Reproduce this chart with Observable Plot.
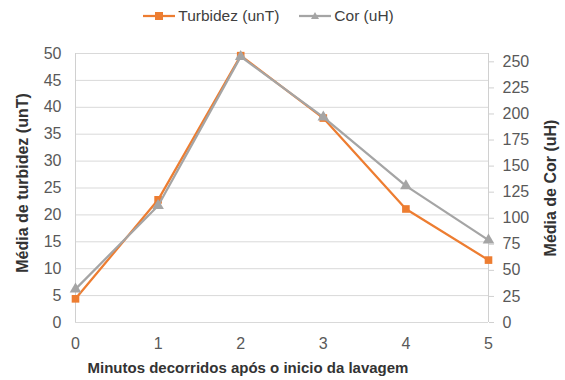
<!DOCTYPE html>
<html>
<head>
<meta charset="utf-8">
<script src="https://cdn.jsdelivr.net/npm/d3@7"></script>
<script src="https://cdn.jsdelivr.net/npm/@observablehq/plot@0.6"></script>
<style>
  html, body { margin: 0; padding: 0; background: #fff; }
  body { width: 565px; height: 380px; overflow: hidden; font-family: "Liberation Sans", Arial, sans-serif; }
  #legend { height: 31px; display: flex; justify-content: center; align-items: center; gap: 20px; font-size: 15.5px; color: #404040; padding-right: 28px; box-sizing: border-box; }
  #legend .item { display: flex; align-items: center; gap: 3px; }
</style>
</head>
<body>
<div id="legend"></div>
<div id="chart"></div>
<script>
const minutes = [0, 1, 2, 3, 4, 5];
const turbidez = [4.4, 22.8, 49.6, 38.0, 21.1, 11.6];
const cor = [32, 112, 255, 197, 131, 79];
const seriesNames = ["Turbidez (unT)", "Cor (uH)"];
const leftTicks = d3.range(0, 51, 5);
const rightTicks = d3.range(0, 251, 25);
const xTicks = [0, 1, 2, 3, 4, 5];

const orange = "#ED7D31";
const gray = "#A5A5A5";
const leftMax = 50;
const rightMax = 258;
const k = leftMax / rightMax;

const turbData = minutes.map((m, i) => ({x: m, y: turbidez[i]}));
const corData = minutes.map((m, i) => ({x: m, y: cor[i] * k}));

// legend
const legend = document.getElementById("legend");
[[seriesNames[0], orange, "square"], [seriesNames[1], gray, "triangle"]].forEach(([name, color, sym]) => {
  const item = document.createElement("div");
  item.className = "item";
  const marker = sym === "square"
    ? `<rect x="12" y="2" width="8" height="8" fill="${color}"/>`
    : `<path d="M16,2 L20,9 L12,9 Z" fill="${color}"/>`;
  item.innerHTML = `<svg width="32" height="12"><line x1="0" x2="32" y1="6" y2="6" stroke="${color}" stroke-width="2.25"/>${marker}</svg><span>${name}</span>`;
  legend.appendChild(item);
});

const chart = Plot.plot({
  width: 565,
  height: 349,
  marginLeft: 75,
  marginRight: 77,
  marginTop: 22,
  marginBottom: 58,
  style: {fontFamily: "Liberation Sans, Arial, sans-serif", fontSize: "16px", color: "#595959", background: "white"},
  x: {domain: [0, 5]},
  y: {domain: [0, leftMax]},
  marks: [
    Plot.gridY(leftTicks, {stroke: "#d9d9d9", strokeOpacity: 1, strokeWidth: 1}),
    Plot.ruleX([0, 5], {stroke: "#d0d0d0", strokeWidth: 1}),
    Plot.axisY(leftTicks, {anchor: "left", tickSize: 0, tickPadding: 14, fontSize: 16, fill: "#595959",
      label: null}),
    Plot.text(["Média de turbidez (unT)"], {frameAnchor: "left", textAnchor: "middle", dx: -53, dy: -5, rotate: -90, fontWeight: "bold", fontSize: 16, fill: "#333"}),
    Plot.axisY(rightTicks.map(v => v * k), {anchor: "right", tickSize: 5, tickPadding: 9, stroke: "#d0d0d0", fontSize: 16, fill: "#595959",
      tickFormat: d => String(Math.round(d / k)), label: null}),
    Plot.text(["Média de Cor (uH)"], {frameAnchor: "right", textAnchor: "middle", dx: 62, rotate: -90, fontWeight: "bold", fontSize: 16, fill: "#333"}),
    Plot.axisX(xTicks, {tickSize: 0, tickPadding: 15, fontSize: 16, fill: "#595959", label: null}),
    Plot.text(["Minutos decorridos após o inicio da lavagem"], {frameAnchor: "bottom", dx: -34, dy: 50, fontWeight: "bold", fontSize: 15, fill: "#333"}),
    Plot.line(turbData, {x: "x", y: "y", stroke: orange, strokeWidth: 2.25}),
    Plot.dot(turbData, {x: "x", y: "y", symbol: "square", r: 4.3, fill: orange, stroke: "none"}),
    Plot.line(corData, {x: "x", y: "y", stroke: gray, strokeWidth: 2.25}),
    Plot.dot(corData, {x: "x", y: "y", symbol: "triangle", r: 4.3, fill: gray, stroke: "none"})
  ]
});
document.getElementById("chart").appendChild(chart);
</script>
</body>
</html>
